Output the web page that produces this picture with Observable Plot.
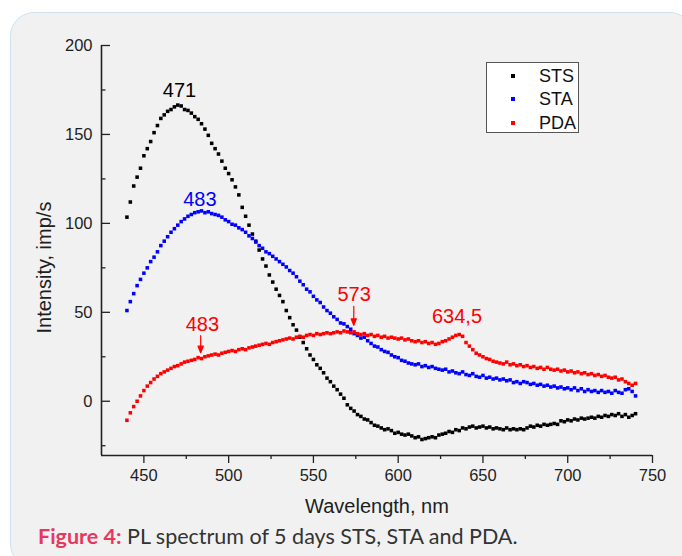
<!DOCTYPE html>
<html>
<head>
<meta charset="utf-8">
<script src="https://cdn.jsdelivr.net/npm/d3@7"></script>
<script src="https://cdn.jsdelivr.net/npm/@observablehq/plot@0.6"></script>
<style>
html, body { margin: 0; padding: 0; background: #ffffff; }
#wrap { position: relative; width: 682px; height: 556px; overflow: hidden; }
#panel { position: absolute; left: 10px; top: 12px; width: 684px; height: 556px; box-sizing: border-box;
  border: 1.5px solid #cfe3ef; border-radius: 24px; background: #f1f1f1; }
#chart { position: absolute; left: 0; top: 0; }
#legend { position: absolute; left: 486px; top: 62px; width: 93px; height: 71px; box-sizing: border-box;
  background: #ffffff; border: 1px solid #555; font-family: "Liberation Sans", Arial, sans-serif; font-size: 18px; color: #111; }
.li { position: absolute; left: 0; height: 20px; line-height: 20px; }
.li .m { position: absolute; left: 24px; top: 8px; width: 4px; height: 4px; }
.li .t { position: absolute; left: 52px; top: 0; }
#caption { position: absolute; left: 38px; top: 523px; font-family: Lato, "Open Sans", sans-serif; font-size: 21.5px;
  color: #333; white-space: nowrap; }
#caption b { color: #e8375e; }
</style>
</head>
<body>
<div id="wrap">
  <div id="panel"></div>
  <div id="chart"></div>
  <div id="legend"></div>
  <div id="caption"><b>Figure 4:</b> PL spectrum of 5 days STS, STA and PDA.</div>
</div>
<script>
// ---- data ----
const wlStart = 440, wlStep = 2;   // spectrometer sampling grid, nm
const stsValues = [
  103.5, 112, 121, 126, 131, 138, 142, 146, 151, 155,
  159, 161, 163, 164, 165.5, 166.5, 166, 164, 163.5, 162,
  160, 158.5, 156, 153, 149.5, 145, 142, 139, 135, 131,
  128, 124.5, 120.5, 116, 109, 104, 99, 94, 90, 85,
  80, 76, 71, 67, 63, 59.5, 56, 51, 47, 43,
  40, 36, 33, 29.5, 26, 23.5, 20.5, 18.5, 16, 13,
  11, 8.5, 6.5, 4, 1.7, -2, -4, -5.5, -7.5, -8.5,
  -10, -10.5, -12, -13.5, -14, -15, -16, -15.5, -16.5, -18,
  -17.5, -18.5, -19, -18.5, -19.5, -20.5, -20, -21.5, -21, -20.5,
  -20, -20.5, -19, -18.5, -18, -17, -17.5, -16, -16.5, -15,
  -15.5, -14.5, -14, -15, -14.5, -14, -15, -14.5, -15.5, -15,
  -15.5, -16, -15, -16, -15.5, -16, -15.5, -16, -15, -14,
  -14.5, -13.5, -14, -13, -13.5, -13, -12.5, -13, -11, -11.5,
  -10.5, -11, -10, -10.5, -9.5, -10, -9.5, -9, -9.5, -8.5,
  -9, -8, -8.5, -7.5, -8, -7, -8.5, -7.5, -9, -8,
  -7
];
const staValues = [
  51, 56, 60.5, 65, 68.5, 72, 75, 78.5, 81, 84,
  87.5, 90, 92.5, 95, 97, 99, 101, 102.5, 104, 105,
  106, 106.5, 107, 106, 106.5, 105.5, 105, 104.5, 103.5, 102,
  101, 99.5, 99, 97.5, 96.5, 95, 93, 91.5, 89.5, 87.5,
  86, 84, 83, 81.5, 80, 78.5, 77, 75.5, 73.5, 72,
  70, 67.5, 65.5, 63, 61.5, 59, 57, 55.5, 53, 51,
  49.5, 47.5, 46, 44, 43.5, 42, 40.5, 38, 37, 35.5,
  36, 34, 32.5, 31, 30.5, 29, 28, 27.5, 26, 25,
  24.5, 23, 22.5, 21.5, 21, 20.5, 21, 19.5, 20, 19,
  19.5, 18.5, 18, 17.5, 18, 16.5, 17, 16, 15.5, 16.5,
  15, 14.5, 15.5, 14, 13.5, 14.5, 13, 13.5, 12.5, 13,
  12, 12.5, 11.5, 12, 10.5, 11, 10, 11, 10.5, 9.5,
  10, 9, 9.5, 8.5, 9, 8, 8.5, 7.5, 8, 7,
  7.5, 6.5, 7.5, 6, 7, 5.5, 6.5, 5.5, 6, 5,
  6, 5, 5.5, 4.5, 6, 5, 4.5, 6.5, 7, 5.5,
  3
];
const pdaValues = [
  -10.7, -6.5, -3, 0, 3, 6, 8.5, 10.5, 12.5, 14,
  15.5, 16.5, 17.5, 18.5, 19.5, 20, 21, 22, 22.5, 23,
  23.5, 24.5, 24, 25, 25.5, 26, 26.5, 26, 27, 27.5,
  28, 28.5, 28, 29, 29.5, 29, 30, 30.5, 31, 31.5,
  32, 32.5, 32, 33, 33.5, 34, 34.5, 35, 35.5, 35,
  36, 36.5, 36, 37, 37.5, 37, 38, 37.5, 38, 38.5,
  38, 38.5, 39, 38.5, 39.5, 39, 38.5, 39, 38, 37.5,
  38, 37, 37.5, 36.5, 37, 36, 36.5, 35.5, 36, 35.5,
  35, 35.5, 34.5, 35, 34, 33.5, 34, 33, 33.5, 32.5,
  33, 32, 32.5, 33.5, 34, 35, 36, 37, 37.5, 36.5,
  33, 31, 29, 27, 26, 25, 24, 23.5, 22.5, 22,
  21.5, 21, 22, 20.5, 21, 20, 20.5, 19.5, 20, 19,
  19.5, 18.5, 19, 18, 19, 18, 17.5, 18, 17, 17.5,
  16.5, 17, 16, 16.5, 15.5, 16, 15, 15.5, 14.5, 15,
  14, 14.5, 13.5, 13, 13.5, 12, 12.5, 11, 10, 9,
  10
];
const seriesNames = ["STS", "STA", "PDA"];
const seriesColors = ["#000000", "#0000ff", "#ff0000"];
const xTicks = [450, 500, 550, 600, 650, 700, 750];
const xMinorTicks = [475, 525, 575, 625, 675, 725];
const yTicks = [0, 50, 100, 150, 200];
const yMinorTicks = [-25, 25, 75, 125, 175];
const xDomain = [425, 750];
const yDomain = [-30.5, 200];
const xTitle = "Wavelength, nm";
const yTitle = "Intensity, imp/s";
// peak annotations
const annotWl = [471, 483, 484.5, 574, 634.7];
const annotValue = [166.5, 107, 24.5, 39, 37.5];
const annotText = ["471", "483", "483", "573", "634,5"];
const annotSeries = ["STS", "STA", "PDA", "PDA", "PDA"];
const arrowWl = [483.5, 573.8];
const arrowValue = [24.5, 39];

// ---- build table ----
const seriesValues = [stsValues, staValues, pdaValues];
const rows = [];
seriesValues.forEach((vals, s) => vals.forEach((v, i) => rows.push({wl: wlStart + i * wlStep, value: v, series: seriesNames[s]})));
const colorOf = name => seriesColors[seriesNames.indexOf(name)];

// ---- layout/styles ----
const W = 682, H = 530, mL = 101, mR = 30, mT = 45, mB = 75;
const frameW = W - mL - mR, frameH = H - mT - mB;
const axisColor = "#222";
const annotDy = [-14, -11.5, -33, -37, -18];
const arrowLen = [17, 19];
const arrowDy = [-5, -6.5];

const arrowShape = {
  draw(ctx, l) {
    ctx.moveTo(0, 0); ctx.lineTo(0, -l + 5);
    ctx.moveTo(0, -l); ctx.lineTo(-2.6, -l + 6.5); ctx.lineTo(2.6, -l + 6.5); ctx.closePath();
  }
};

const marks = [
  Plot.dot(rows, {x: "wl", y: "value", fill: "series", symbol: "square", r: 2}),
  Plot.axisX({ticks: xTicks, tickSize: 8, tickPadding: 6, label: null, stroke: axisColor, strokeWidth: 1.3, fill: "#1e1e1e", fontSize: 16.5}),
  Plot.axisX({ticks: xMinorTicks, tickSize: 4, tickFormat: () => "", label: null, stroke: axisColor, strokeWidth: 1.3}),
  Plot.axisY({ticks: yTicks, tickSize: 0, tickPadding: 9, label: null, fill: "#1e1e1e", fontSize: 16.5}),
  Plot.tickY(yTicks, {y: d => d, insetRight: frameW - 9, stroke: axisColor, strokeWidth: 1.3}),
  Plot.tickY(yMinorTicks, {y: d => d, insetRight: frameW - 4.5, stroke: axisColor, strokeWidth: 1.3}),
  Plot.ruleX([xDomain[0]], {stroke: axisColor, strokeWidth: 1.6}),
  Plot.ruleY([yDomain[0]], {stroke: axisColor, strokeWidth: 1.6}),
  Plot.text([xTitle], {frameAnchor: "bottom", dy: 57, text: d => d, fontSize: 20, fill: "#1e1e1e"}),
  Plot.text([yTitle], {frameAnchor: "left", textAnchor: "start", dx: -57, dy: 83, rotate: -90, text: d => d, fontSize: 20, fill: "#1e1e1e"})
];
annotText.forEach((t, i) => {
  marks.push(Plot.text([i], {x: j => annotWl[j], y: j => annotValue[j], text: j => annotText[j],
    fill: colorOf(annotSeries[i]), fontSize: 20, dy: annotDy[i]}));
});
arrowWl.forEach((w, i) => {
  marks.push(Plot.vector([i], {x: j => arrowWl[j], y: j => arrowValue[j], length: arrowLen[i], rotate: 180, anchor: "end",
    shape: arrowShape, stroke: "#ff0000", fill: "#ff0000", strokeWidth: 1.2, dy: arrowDy[i]}));
});

const chart = Plot.plot({
  width: W, height: H,
  marginLeft: mL, marginRight: mR, marginTop: mT, marginBottom: mB,
  style: {fontFamily: "'Liberation Sans', Arial, sans-serif", fontSize: "16.5px", background: "transparent", overflow: "visible"},
  x: {domain: xDomain},
  y: {domain: yDomain},
  color: {domain: seriesNames, range: seriesColors},
  marks
});
document.getElementById("chart").appendChild(chart);

// ---- legend ----
const legend = document.getElementById("legend");
const legendTops = [3, 26, 50];
seriesNames.forEach((name, i) => {
  const li = document.createElement("div");
  li.className = "li";
  li.style.top = legendTops[i] + "px";
  li.innerHTML = `<span class="m" style="background:${seriesColors[i]}"></span><span class="t">${name}</span>`;
  legend.appendChild(li);
});
</script>
</body>
</html>
